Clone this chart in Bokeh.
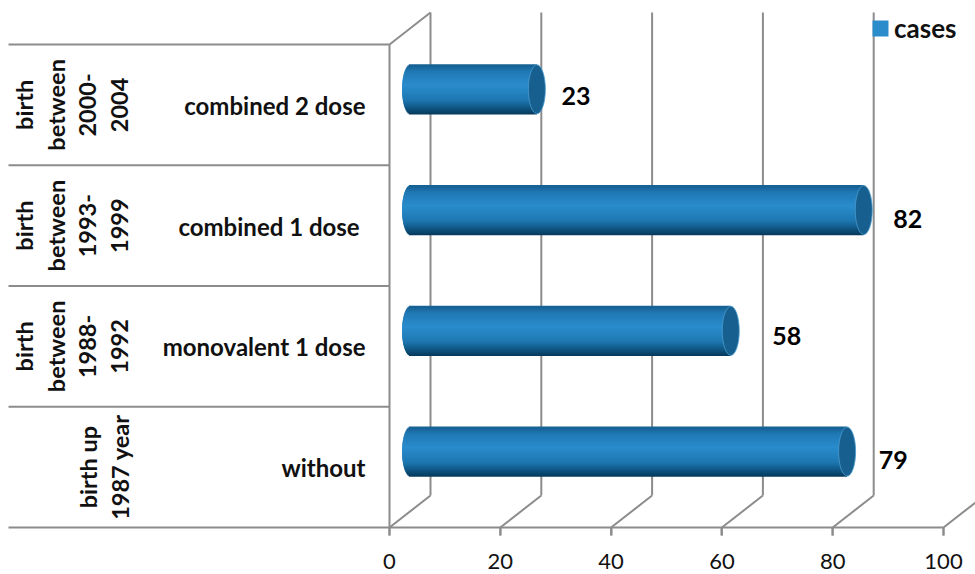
import math
from bokeh.plotting import figure
from bokeh.models import ColumnDataSource, FixedTicker, Legend, LegendItem
from bokeh.core.properties import value
from bokeh.embed import file_html
from bokeh.resources import INLINE

# ---- data (listed bottom row first) ----
cases = [79, 58, 82, 23]
doses = ["without", "monovalent 1 dose", "combined 1 dose ", "combined 2 dose"]
birth_groups = [
    ["birth up", "1987 year"],
    ["birth", "between", "1988-", "1992"],
    ["birth", "between", "1993-", "1999"],
    ["birth", "between", "2000-", "2004"],
]
x_ticks = [0, 20, 40, 60, 80, 100]
series_name = "cases"

# ---- page geometry ----
W, H = 975, 574
X0, X100 = 389, 943
Y0, ROW = 527, 120.75
SX = (X100 - X0) / 100
px_x = lambda px: (px - X0) / SX
px_y = lambda py: (Y0 - py) / ROW
DX, DY = 41 / SX, 32 / ROW          # depth of the 3D box
TOP = px_y(12)

GREY = "#8c8c8c"
FONT = value("Lato")

p = figure(width=W, height=H, output_backend="svg", toolbar_location=None,
           x_range=(px_x(0), px_x(W)), y_range=(px_y(H), px_y(0)),
           min_border=0, outline_line_color=None, background_fill_color="white")
p.styles = {"position": "absolute", "left": "0px", "top": "0px"}
p.grid.visible = False
p.yaxis.visible = False

# x axis: fixed on the floor line
ax = p.xaxis[0]
ax.fixed_location = 0
ax.bounds = (0, 100)
ax.ticker = FixedTicker(ticks=x_ticks)
ax.axis_line_color = GREY
ax.axis_line_width = 2
ax.major_tick_line_color = GREY
ax.major_tick_line_width = 2
ax.major_tick_out = 8
ax.major_tick_in = 0
ax.minor_tick_line_color = None
ax.major_label_text_font = "Lato"
ax.major_label_text_font_size = "22px"
ax.major_label_text_color = "#111111"
ax.major_label_standoff = 18

# tick marks below the floor line
p.segment(x0=x_ticks, y0=[0] * len(x_ticks), x1=x_ticks,
          y1=[px_y(Y0 + 8)] * len(x_ticks), line_color=GREY, line_width=2)

# back-wall gridlines and floor diagonals
back = [t for t in x_ticks if t < 100]
p.segment(x0=[t + DX for t in back], y0=[DY] * len(back),
          x1=[t + DX for t in back], y1=[TOP] * len(back),
          line_color=GREY, line_width=2)
p.segment(x0=x_ticks, y0=[0] * len(x_ticks),
          x1=[t + DX for t in x_ticks], y1=[DY] * len(x_ticks),
          line_color=GREY, line_width=2)

# side wall and row separators
n = len(cases)
p.segment(x0=[0, 0], y0=[0, n], x1=[0, DX], y1=[n, n + DY],
          line_color=GREY, line_width=2)
p.segment(x0=[px_x(8)] * (n + 1), y0=list(range(n + 1)),
          x1=[0] * (n + 1), y1=list(range(n + 1)),
          line_color=GREY, line_width=2)

# cylinders
BAR_Y = 0.629
HALF = 24.5 / ROW
BASE_L, BASE_R = 3.8, 3.6
CAP = 8.5 / SX
ys = [i + BAR_Y for i in range(n)]
stops = [(-1.0, (6, 56, 90)), (-0.75, (14, 84, 128)), (-0.4, (30, 120, 178)),
         (0.2, (42, 140, 204)), (0.75, (32, 120, 180)), (1.0, (22, 96, 146))]


def shade(t):
    for (a, ca), (b, cb) in zip(stops, stops[1:]):
        if a <= t <= b:
            f = (t - a) / (b - a)
            return "#%02x%02x%02x" % tuple(round(u + (w - u) * f) for u, w in zip(ca, cb))
    return "#2a8cca"


base = p.hbar(y=ys, left=[BASE_L] * n, right=[v + BASE_R for v in cases],
              height=2 * HALF * 0.9, fill_color="#2a8cca", line_color=None)

strips = dict(y=[], left=[], right=[], color=[])
STEPS = 49
for k in range(STEPS):
    t = -1 + 2 * (k + 0.5) / STEPS
    for i, v in enumerate(cases):
        strips["y"].append(ys[i] + t * HALF)
        strips["left"].append(BASE_L - CAP * math.sqrt(1 - t * t))
        strips["right"].append(v + BASE_R)
        strips["color"].append(shade(t))
p.hbar(y="y", left="left", right="right", height=2.2 / ROW, fill_color="color",
       line_color=None, source=ColumnDataSource(strips))
p.ellipse(x=[v + BASE_R for v in cases], y=ys, width=2 * CAP, height=2 * HALF,
          fill_color="#175f8e", line_color="#4a9ccf", line_width=0.8)

# value labels
lab_dx = [66 / SX, 76 / SX, 64 / SX, 59 / SX]
lab_dy = [7.5 / ROW, 10.5 / ROW, 7 / ROW, 8.5 / ROW]
p.text(x=[v + d for v, d in zip(cases, lab_dx)],
       y=[i + 0.5 + d for i, d in enumerate(lab_dy)],
       text=[str(v) for v in cases], text_font=FONT, text_font_style="bold",
       text_font_size="25px", text_color="black",
       text_align="center", text_baseline="middle")

# dose labels
dose_right = [px_x(365)] * n
p.text(x=dose_right, y=[i + 0.5 - 0.5 / ROW for i in range(n)], text=doses,
       text_font=FONT, text_font_style="bold", text_font_size="24px",
       text_color="#111111", text_align="right", text_baseline="middle")

# rotated birth-group labels, last line at x = 119 px
gx, gy, gt = [], [], []
for i, lines in enumerate(birth_groups):
    for j, line in enumerate(lines):
        gx.append(px_x(119 - 32 * (len(lines) - 1 - j)))
        gy.append(i + 0.5)
        gt.append(line)
p.text(x=gx, y=gy, text=gt, angle=math.pi / 2, text_font=FONT,
       text_font_style="bold", text_font_size="23.5px", text_color="#111111",
       text_align="center", text_baseline="middle")

# legend
legend = Legend(items=[LegendItem(label=series_name, renderers=[base])],
                location=(870, H - 44), background_fill_alpha=0, border_line_color=None,
                glyph_width=20, glyph_height=20, label_text_font="Lato",
                label_text_font_style="bold", label_text_font_size="26px",
                label_text_color="#111111", margin=0, padding=6, label_standoff=4)
p.add_layout(legend)

open("out.html", "w").write(file_html(p, INLINE))
